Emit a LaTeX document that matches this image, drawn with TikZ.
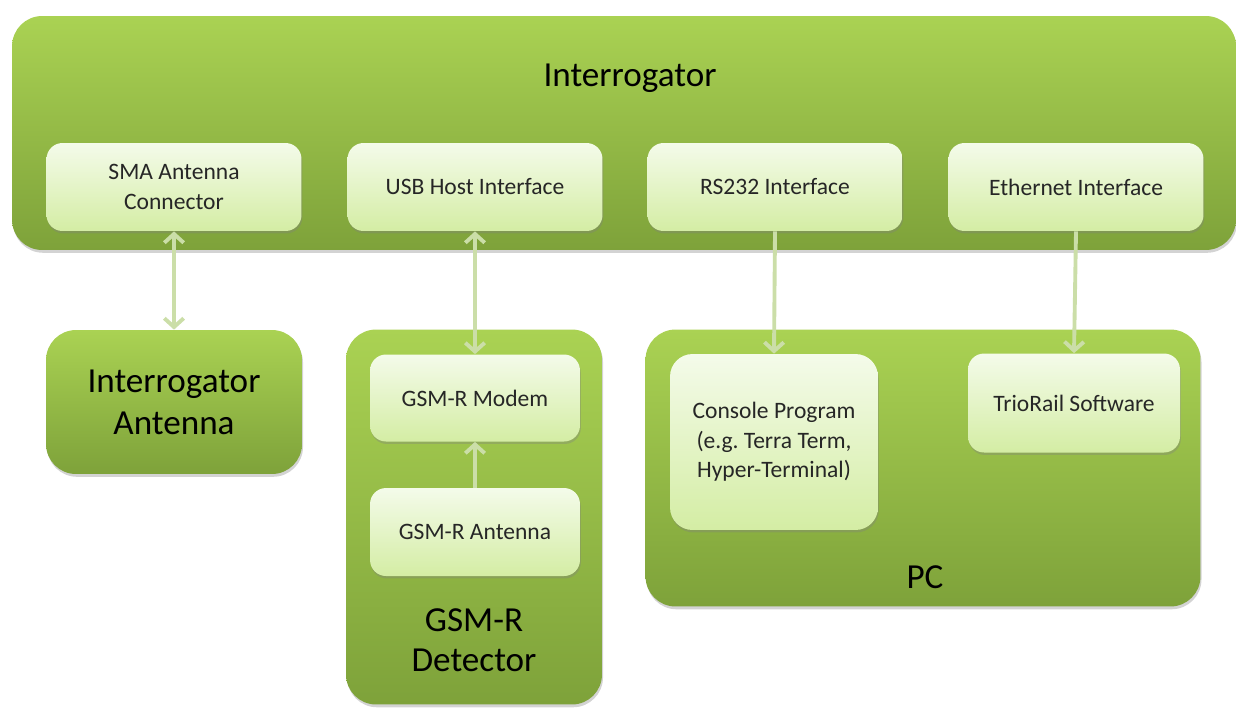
\documentclass[tikz,border=0pt]{standalone}
\usepackage{fontspec}
\setmainfont{Carlito}
\usetikzlibrary{arrows.meta}
\usetikzlibrary{shadows}

\definecolor{outertop}{HTML}{AAD253}
\definecolor{outerbot}{HTML}{7EA23A}
\definecolor{innertop}{HTML}{F4FBEA}
\definecolor{innerbot}{HTML}{D4EDA4}
\definecolor{linkgreen}{HTML}{CBDEA8}

\tikzset{
  outerbox/.style={rounded corners=0.6cm, top color=outertop, bottom color=outerbot, draw=none,
    drop shadow={shadow xshift=0.6pt, shadow yshift=-1.6pt, opacity=0.35},
    font=\fontsize{20}{24}\selectfont, align=center},
  innerbox/.style={rounded corners=0.32cm, top color=innertop, bottom color=innerbot, draw=none,
    drop shadow={shadow xshift=0.5pt, shadow yshift=-1.4pt, opacity=0.35},
    font=\fontsize{13.4}{16.8}\selectfont, text=black!85, align=center},
  bigtext/.style={font=\fontsize{20}{23}\selectfont, align=center},
  link/.style={draw=linkgreen, line width=2.2pt}
}

\begin{document}
\begin{tikzpicture}[x=0.02cm, y=-0.02cm, >={Straight Barb[length=5pt,width=11pt]}]
    \useasboundingbox (0,0) rectangle (1236,707);

    % outer blocks
    \node[outerbox, minimum width=24.48cm, minimum height=4.68cm] (interrogator) at (624,133) {};
    \node[bigtext] (interrogatortitle) at (630,78) {Interrogator};
    \node[outerbox, minimum width=5.12cm, minimum height=2.88cm] (antenna) at (174,402) {Interrogator\\Antenna};
    \node[outerbox, minimum width=5.12cm, minimum height=7.5cm] (detector) at (474,517) {};
    \node[bigtext] (detectortitle) at (474,640) {GSM-R\\Detector};
    \node[outerbox, minimum width=11.1cm, minimum height=5.54cm] (pc) at (923,468) {};
    \node[bigtext] (pctitle) at (925,577) {PC};

    % interfaces
    \node[innerbox, minimum width=5.1cm, minimum height=1.76cm] (sma) at (174,187) {SMA Antenna\\Connector};
    \node[innerbox, minimum width=5.1cm, minimum height=1.76cm] (usb) at (475,187) {USB Host Interface};
    \node[innerbox, minimum width=5.1cm, minimum height=1.76cm] (rs232) at (775,187) {RS232 Interface};
    \node[innerbox, minimum width=5.1cm, minimum height=1.76cm] (ethernet) at (1076,187) {Ethernet Interface};

    % inside detector and pc
    \node[innerbox, minimum width=4.2cm, minimum height=1.74cm] (modem) at (475,398) {GSM-R Modem};
    \node[innerbox, minimum width=4.2cm, minimum height=1.76cm] (gsmantenna) at (475,532) {GSM-R Antenna};
    \node[innerbox, rounded corners=0.45cm, minimum width=4.16cm, minimum height=3.52cm] (console) at (774,442) {Console Program\\(e.g.\ Terra Term,\\Hyper-Terminal)};
    \node[innerbox, minimum width=4.24cm, minimum height=1.98cm] (triorail) at (1074,403) {TrioRail Software};

    \draw [link, <->] (sma.south) -- (antenna.north);
    \draw [link, <->] (usb.south) -- (modem.north);
    \draw [link, ->] (rs232.south) -- (console.north);
    \draw [link, ->] (ethernet.south) -- (triorail.north);
    \draw [link, ->] (gsmantenna.north) -- (modem.south);
\end{tikzpicture}
\end{document}
